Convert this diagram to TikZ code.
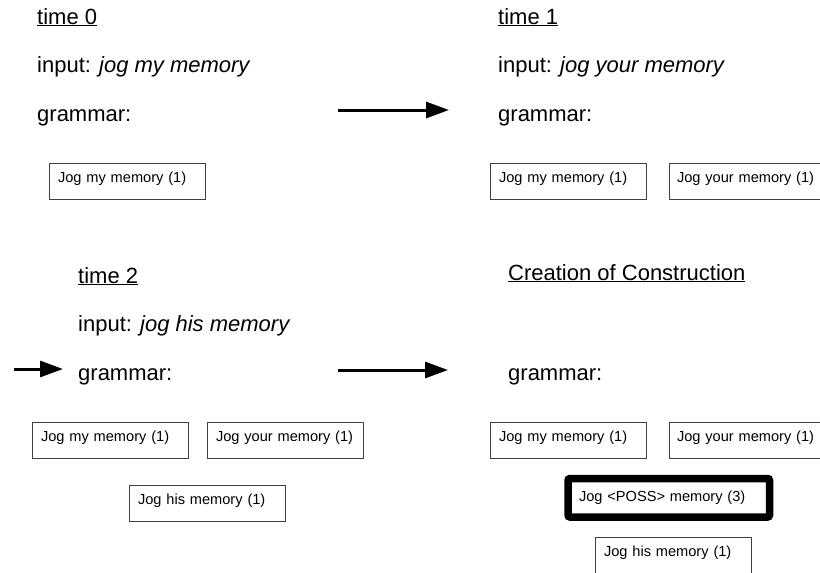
\documentclass[tikz,border=0pt]{standalone}
\usepackage{fontspec}
\setmainfont{Liberation Sans}
\usepackage{tikz}
\usetikzlibrary{arrows.meta}
\tikzstyle{head} = [anchor=base west, inner sep=0pt, font=\fontsize{22}{26}\selectfont]
\tikzstyle{rule} = [draw=black!75, line width=1pt, anchor=north west, outer sep=0pt, text width=138pt, inner xsep=9pt, inner ysep=0pt, text height=19.5pt, text depth=16.5pt, align=left, font=\fontsize{14.6}{17}\selectfont]
\tikzstyle{line} = [draw, line width=3pt, -{Triangle[length=23pt,width=16pt]}]

\begin{document}
\begin{tikzpicture}[x=1pt,y=-1pt]
      \useasboundingbox (0,0) rectangle (820,573);

      % time 0
      \node[head] (t0) at (37,24) {\underline{time 0}};
      \node[head] (in0) at (37,72) {input: \textit{jog my memory}};
      \node[head] (g0) at (37,121) {grammar:};
      \node[rule] (r0a) at (49,163) {Jog my memory (1)};

      % time 1
      \node[head] (t1) at (498,24) {\underline{time 1}};
      \node[head] (in1) at (498,72) {input: \textit{jog your memory}};
      \node[head] (g1) at (498,121) {grammar:};
      \node[rule] (r1a) at (490,163) {Jog my memory (1)};
      \node[rule, text width=135pt, inner xsep=8pt] (r1b) at (669,163) {\mbox{Jog your memory (1)}};

      % time 2
      \node[head] (t2) at (78,283) {\underline{time 2}};
      \node[head] (in2) at (78,331) {input: \textit{jog his memory}};
      \node[head] (g2) at (78,380) {grammar:};
      \node[rule] (r2a) at (32,422) {Jog my memory (1)};
      \node[rule] (r2b) at (207,422) {Jog your memory (1)};
      \node[rule] (r2c) at (129,485) {Jog his memory (1)};

      % new construction
      \node[head] (cc) at (508,280) {\underline{Creation of Construction}};
      \node[head] (g3) at (508,380) {grammar:};
      \node[rule] (r3a) at (490,422) {Jog my memory (1)};
      \node[rule, text width=135pt, inner xsep=8pt] (r3b) at (669,422) {\mbox{Jog your memory (1)}};
      \node[rule, draw=black, line width=7.5pt, rounded corners=2pt, text width=179.5pt, inner xsep=11pt, text height=22.5pt, text depth=16pt] (poss) at (568,478.5) {Jog <POSS> memory (3)};
      \node[rule] (r3c) at (595,537) {Jog his memory (1)};

      % arrows
      \coordinate (a1s) at (338,110);
      \coordinate (a1e) at (449,110);
      \coordinate (a2s) at (14,369);
      \coordinate (a2e) at (63,369);
      \coordinate (a3s) at (338,370);
      \coordinate (a3e) at (448,370);
      \draw[line] (a1s) -- (a1e);
      \draw[line] (a2s) -- (a2e);
      \draw[line] (a3s) -- (a3e);
    \end{tikzpicture}
\end{document}
